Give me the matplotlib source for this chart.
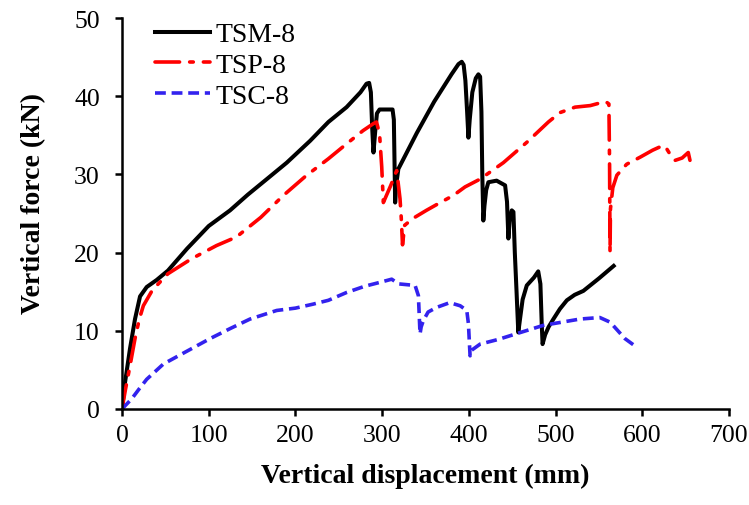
import matplotlib
matplotlib.use("Agg")
import matplotlib.pyplot as plt

# ---------------- data ----------------
tsm_x = [0, 3.5, 9.2, 15, 20.8, 28.5, 40, 53, 75, 100, 124.6, 145, 167, 190, 217, 238, 259,
         275, 282, 285, 287, 288.5, 290, 292, 294, 297, 312, 313.5, 314.5, 315, 316, 318.7,
         340, 360, 380, 388, 391.8, 394, 396, 398, 399.5, 401, 404, 408, 411, 413, 414.5,
         415.5, 416.7, 418, 420, 422.5, 432, 441.8, 444, 445.6, 447, 449.5, 451.4, 453,
         455, 457, 459, 462, 466.8, 475, 480, 482.5, 484, 485, 488, 492, 497.5, 505, 513,
         522, 532, 550, 567]
tsm_y = [0, 3.4, 7.7, 11.5, 14.4, 15.6, 16.5, 17.7, 20.5, 23.4, 25.4, 27.4, 29.4, 31.5, 34.3,
         36.7, 38.6, 40.5, 41.6, 41.7, 40.5, 36, 32.8, 35.5, 37.8, 38.3, 38.3, 37, 30, 26.4,
         28.5, 30.7, 35.3, 39.3, 42.8, 44.1, 44.4, 44, 42, 38, 34.7, 37, 40.5, 42.3, 42.8,
         42.5, 38, 30, 24.1, 26, 28, 29, 29.2, 28.6, 26.5, 21.8, 24, 25.4, 25.2, 20, 15,
         9.8, 11.5, 14, 15.8, 16.8, 17.6, 16, 11, 8.3, 9.5, 10.5, 11.5, 12.8, 13.9, 14.6,
         15.1, 16.7, 18.3]

tsp_x = [0, 4, 9.2, 15, 20, 24.6, 35, 53, 80, 109, 132, 160, 186, 212, 238, 260, 278, 290,
         293.5, 297, 299.5, 301.4, 310, 316.8, 320.6, 322, 323.5, 326, 336, 351, 367, 382,
         395.6, 413, 439.8, 466.8, 491.7, 505, 522.5, 540, 553.3, 558, 561.5, 562.3, 562.8,
         563.3, 566, 570.7, 582, 597.5, 612, 624, 628, 633, 638, 646, 653, 655]
tsp_y = [0, 2.5, 5.5, 9, 11.5, 13.2, 15.2, 17.3, 19.2, 20.9, 22, 24.5, 27.3, 29.8, 32, 34,
         35.6, 36.5, 36.7, 35.2, 31, 26.4, 28.6, 30.5, 26.9, 24.5, 21, 23.5, 24.4, 25.4, 26.4,
         27.3, 28.4, 29.4, 31.5, 34.1, 36.7, 37.9, 38.6, 38.8, 39.2, 39.3, 39.0, 31, 20.0,
         25.6, 28.3, 29.9, 31.3, 32.2, 33.1, 33.7, 33.3, 32.4, 31.8, 32.1, 32.8, 31.8]

tsc_x = [0, 11.2, 20, 28.5, 47.7, 75, 101.5, 125, 147.6, 178.4, 200, 220, 238, 259, 280,
         297.6, 311, 319, 338, 341.8, 343.7, 345, 347.5, 353, 363, 378, 390, 397.6, 399.5,
         401.4, 403, 413, 434, 457, 486, 528, 551, 563, 580, 593.6]
tsc_y = [0, 1.3, 2.6, 3.8, 5.75, 7.4, 9.0, 10.3, 11.5, 12.6, 12.9, 13.4, 13.9, 14.9, 15.7,
         16.2, 16.6, 16.0, 15.8, 14.5, 9.6, 10.5, 11.3, 12.4, 13.0, 13.6, 13.2, 12.6, 10.9,
         6.8, 7.5, 8.3, 8.9, 9.7, 10.7, 11.5, 11.7, 11.1, 9.0, 7.9]

series_names = ["TSM-8", "TSP-8", "TSC-8"]
x_ticks = [0, 100, 200, 300, 400, 500, 600, 700]
y_ticks = [0, 10, 20, 30, 40, 50]

# ---------------- plot ----------------
plt.rcParams['font.family'] = ['Liberation Serif', 'DejaVu Serif']
fig = plt.figure(figsize=(7.49, 5.06), dpi=100)
ax = fig.add_axes([122/749, 96/506, 607/749, 391/506])

ax.plot(tsm_x, tsm_y, color='black', lw=2.9, solid_joinstyle='round',
        label=series_names[0])
ax.plot(tsp_x, tsp_y, color='#ff0000', lw=2.6, dashes=(6.8, 2.8, 1.0, 2.8),
        dash_capstyle='round', label=series_names[1])
ax.plot(tsc_x, tsc_y, color='#3322ee', lw=2.6, dashes=(3.0, 1.6),
        dash_capstyle='butt', label=series_names[2])

ax.set_xlim(0, 700)
ax.set_ylim(0, 50)
ax.set_xticks(x_ticks)
ax.set_yticks(y_ticks)
for s in ['top', 'right']:
    ax.spines[s].set_visible(False)
for s in ['left', 'bottom']:
    ax.spines[s].set_linewidth(1.8)
ax.tick_params(axis='both', direction='out', length=5, width=1.8, labelsize=18.5)
ax.tick_params(axis='x', pad=6)
ax.tick_params(axis='y', pad=11)

ax.set_xlabel("Vertical displacement (mm)", fontsize=20, fontweight='bold', labelpad=12)
ax.set_ylabel("Vertical force (kN)", fontsize=20, fontweight='bold')
ax.yaxis.set_label_coords(-0.125, 0.527)

leg = ax.legend(loc='upper left', bbox_to_anchor=(0.054, 0.99), frameon=False,
                fontsize=20, handlelength=2.0, handletextpad=0.2,
                labelspacing=0.19, borderaxespad=0, borderpad=0)

fig.savefig("out.png", dpi=100)
